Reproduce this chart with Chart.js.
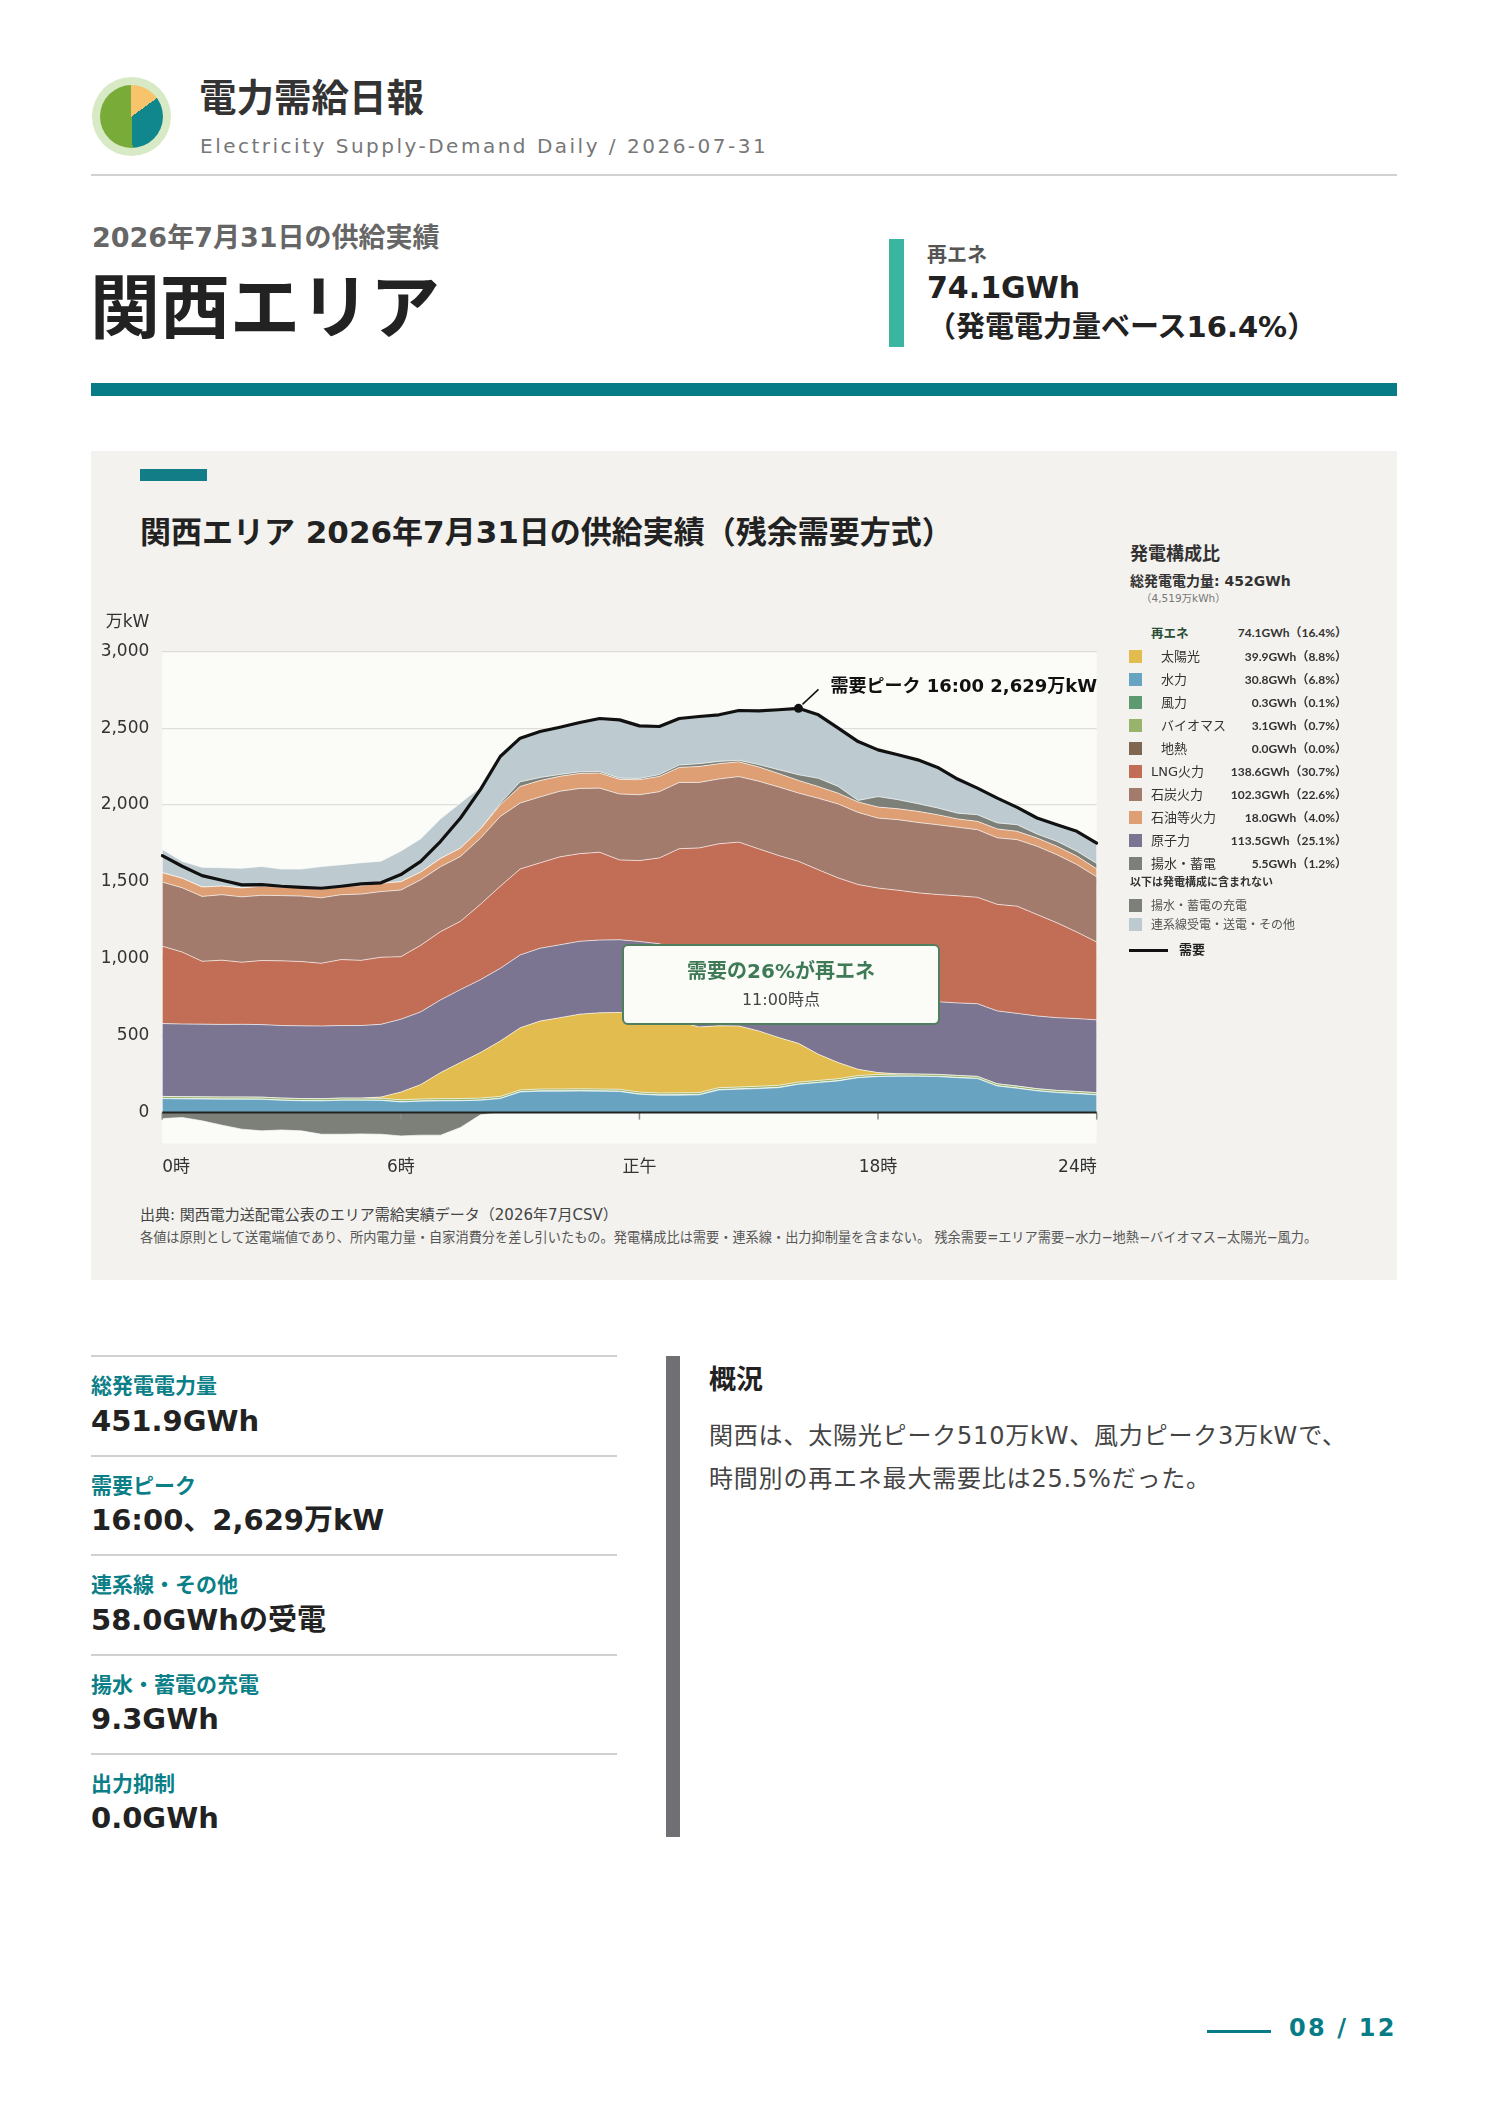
<!DOCTYPE html>
<html lang="ja">
<head>
<meta charset="utf-8">
<title>電力需給日報 関西エリア</title>
<script src="https://cdn.jsdelivr.net/npm/chart.js"></script>
<style>
html,body{margin:0;padding:0;background:#fff;}
body{position:relative;width:1488px;height:2105px;overflow:hidden;font-family:"DejaVu Sans","Noto Sans CJK JP",sans-serif;color:#222;}
.t{position:absolute;white-space:nowrap;line-height:1.2;transform:translateY(-50%);}
.b{font-weight:700;}
.box{position:absolute;box-sizing:border-box;}
.lg{font-family:Lato,"Noto Sans CJK JP",sans-serif;}
.sw{position:absolute;width:13px;height:13px;}
</style>
</head>
<body>
<!-- header -->
<div class="box" style="left:92px;top:77px;width:79px;height:79px;border-radius:50%;background:#d7e9c5;"></div>
<div class="box" style="left:100px;top:85px;width:63px;height:63px;border-radius:50%;background:conic-gradient(#f7c46c 0deg 54deg,#10878c 54deg 178deg,#78ab37 178deg 360deg);"></div>
<div class="t b" style="left:199px;top:98px;font-size:37.5px;color:#333;">電力需給日報</div>
<div class="t" style="left:200px;top:146px;font-size:20px;color:#777;letter-spacing:2.5px;">Electricity Supply-Demand Daily / 2026-07-31</div>
<div class="box" style="left:91px;top:174px;width:1306px;height:2px;background:#d2d2d2;"></div>

<div class="t b" style="left:92px;top:238px;font-size:27px;color:#666;">2026年7月31日の供給実績</div>
<div class="t b" style="left:90px;top:309px;font-size:70px;color:#222;">関西エリア</div>
<div class="box" style="left:889px;top:239px;width:15px;height:108px;background:#3ab59f;"></div>
<div class="t b" style="left:927px;top:255px;font-size:20px;color:#555;">再エネ</div>
<div class="t b" style="left:927px;top:288px;font-size:30px;color:#222;">74.1GWh</div>
<div class="t b" style="left:927px;top:327px;font-size:29px;color:#222;">（発電電力量ベース16.4%）</div>
<div class="box" style="left:91px;top:383px;width:1306px;height:13px;background:#087c86;"></div>

<!-- panel -->
<div class="box" style="left:91px;top:451px;width:1306px;height:829px;background:#f3f2ee;"></div>
<div class="box" style="left:140px;top:469px;width:67px;height:12px;background:#137d87;"></div>
<div class="t b" style="left:140px;top:533px;font-size:31px;color:#222;">関西エリア 2026年7月31日の供給実績（残余需要方式）</div>

<div class="box" style="left:91px;top:600px;width:1040px;height:600px;">
  <canvas id="chart"></canvas>
</div>

<!-- annotation box -->
<div class="box" style="left:622px;top:944px;width:318px;height:81px;border:2px solid #4f7f5f;border-radius:6px;background:#fbfbf8;">
  <div class="t b" style="left:0;width:314px;text-align:center;top:25px;font-size:20px;color:#3e7a55;">需要の26%が再エネ</div>
  <div class="t" style="left:0;width:314px;text-align:center;top:54px;font-size:16px;color:#444;">11:00時点</div>
</div>

<!-- legend -->
<div id="legend"></div>

<div class="t" style="left:140px;top:1215px;font-size:15px;color:#444;">出典: 関西電力送配電公表のエリア需給実績データ（2026年7月CSV）</div>
<div class="t" style="left:140px;top:1238px;font-size:13.2px;color:#555;">各値は原則として送電端値であり、所内電力量・自家消費分を差し引いたもの。発電構成比は需要・連系線・出力抑制量を含まない。 残余需要=エリア需要−水力−地熱−バイオマス−太陽光−風力。</div>

<!-- bottom stats -->
<div id="stats"></div>
<div class="box" style="left:666px;top:1356px;width:14px;height:481px;background:#6f6f74;"></div>
<div class="t b" style="left:709px;top:1380px;font-size:27px;color:#222;">概況</div>
<div class="t" style="left:709px;top:1436px;font-size:24px;color:#444;letter-spacing:0.8px;">関西は、太陽光ピーク510万kW、風力ピーク3万kWで、</div>
<div class="t" style="left:709px;top:1479px;font-size:24px;color:#444;letter-spacing:0.8px;">時間別の再エネ最大需要比は25.5%だった。</div>

<!-- page number -->
<div class="box" style="left:1207px;top:2030px;width:64px;height:3px;background:#087c86;"></div>
<div class="t b" style="left:1289px;top:2028px;font-size:24px;color:#087c86;letter-spacing:2.2px;">08 / 12</div>

<script>
// ---------- data (万kW, 30-minute values) ----------
const timeLabels = ["0:00","0:30","1:00","1:30","2:00","2:30","3:00","3:30","4:00","4:30","5:00","5:30",
  "6:00","6:30","7:00","7:30","8:00","8:30","9:00","9:30","10:00","10:30","11:00","11:30",
  "12:00","12:30","13:00","13:30","14:00","14:30","15:00","15:30","16:00","16:30","17:00","17:30",
  "18:00","18:30","19:00","19:30","20:00","20:30","21:00","21:30","22:00","22:30","23:00","23:30"];
const xTickText = {0:"0時",12:"6時",24:"正午",36:"18時",47:"24時"};
const yTickValues = [0,500,1000,1500,2000,2500,3000];
const unitLabel = "万kW";

const demand = [1671,1602,1541,1511,1481,1483,1472,1465,1459,1472,1487,1494,
  1548,1634,1764,1916,2100,2316,2435,2478,2506,2537,2563,2554,
  2515,2511,2563,2576,2587,2615,2613,2620,2629,2587,2500,2413,
  2359,2327,2294,2245,2169,2110,2045,1985,1916,1872,1829,1753];
const hydro = [91,89,88,87,87,86,80,77,76,80,80,79,
  69,74,76,77,80,91,134,139,139,140,139,137,
  119,113,113,115,147,152,156,162,184,195,206,227,
  234,236,236,234,227,221,173,158,141,130,123,115];
const geothermal = [0,0,0,0,0,0,0,0,0,0,0,0,
  0,0,0,0,0,0,0,0,0,0,0,0,
  0,0,0,0,0,0,0,0,0,0,0,0,
  0,0,0,0,0,0,0,0,0,0,0,0];
const wind = [1,1,1,1,1,1,1,1,1,1,1,1,
  1,1,1,1,1,1,1,2,2,2,2,2,
  2,2,3,3,3,2,2,2,1,1,1,1,
  1,1,1,1,1,1,1,1,1,1,1,1];
const biomass = [13,13,13,13,13,13,13,13,13,13,13,13,
  13,13,13,13,13,13,12,12,12,12,12,12,
  12,12,12,12,12,12,13,13,13,13,13,13,
  13,13,13,13,13,13,13,13,13,13,13,13];
const solar = [0,0,0,0,0,0,0,0,0,0,0,8,
  50,94,170,235,296,360,404,442,464,486,496,500,
  507,498,463,427,402,397,360,311,252,170,105,40,
  12,2,0,0,0,0,0,0,0,0,0,0];
const nuclear = [474,473,473,472,473,472,472,473,473,472,472,473,
  474,473,473,474,474,473,474,474,474,474,473,473,
  473,473,472,472,473,472,473,473,473,472,473,473,
  472,473,473,473,472,473,474,473,473,473,474,474];
const lng = [503,468,409,418,404,417,421,418,408,429,424,436,
  407,433,444,444,490,534,559,555,572,570,571,519,
  526,558,653,692,711,724,711,711,711,728,728,729,
  728,721,706,697,697,692,693,697,660,617,563,506];
const coal = [417,418,422,426,425,424,424,426,426,422,431,427,
  433,426,422,422,430,454,429,429,427,424,417,429,
  428,431,431,426,422,426,440,446,444,465,481,469,
  455,459,458,454,446,440,433,433,444,443,439,424];
const oil = [61,62,61,56,58,59,55,54,55,54,54,54,
  54,50,54,54,60,75,108,106,97,98,98,95,
  98,99,98,104,99,96,93,87,82,76,70,68,
  72,71,72,65,54,54,58,54,54,55,55,52];
const pumpedGen = [0,0,0,0,0,0,0,0,0,0,0,0,
  0,0,0,0,0,10,30,20,12,10,10,8,
  8,12,15,18,15,10,15,25,37,54,44,10,
  68,59,50,44,37,43,39,43,25,32,32,35];
const interconnect = [151,110,128,119,128,129,118,122,148,141,150,144,
  200,217,258,294,272,305,284,300,308,322,345,379,
  342,313,303,307,304,323,351,391,432,412,379,383,
  303,292,285,264,221,173,162,113,105,108,130,134];
const pumpedCharge = [-39,-32,-54,-82,-108,-119,-113,-119,-141,-141,-139,-141,
  -152,-147,-147,-97,-15,0,0,0,0,0,0,0,
  0,0,0,0,0,0,0,0,0,0,0,0,
  0,0,0,0,0,0,0,0,0,0,0,0];

// legend table (text values)
const legendNames  = ["太陽光","水力","風力","バイオマス","地熱","LNG火力","石炭火力","石油等火力","原子力","揚水・蓄電"];
const legendValues = ["39.9GWh（8.8%）","30.8GWh（6.8%）","0.3GWh（0.1%）","3.1GWh（0.7%）","0.0GWh（0.0%）",
  "138.6GWh（30.7%）","102.3GWh（22.6%）","18.0GWh（4.0%）","113.5GWh（25.1%）","5.5GWh（1.2%）"];
const renewTotal = "74.1GWh（16.4%）";
const statLabels = ["総発電電力量","需要ピーク","連系線・その他","揚水・蓄電の充電","出力抑制"];
const statValues = ["451.9GWh","16:00、2,629万kW","58.0GWhの受電","9.3GWh","0.0GWh"];

// ---------- styles ----------
const C = {
  solar:'#e2bc4e', hydro:'#68a3c1', wind:'#5d9a70', biomass:'#98b46c', geo:'#7f6650',
  lng:'#c26d55', coal:'#a27b6d', oil:'#df9f74', nuclear:'#7b7591', pumped:'#7d8078', ic:'#bdcbd0'
};
const legendColors = [C.solar,C.hydro,C.wind,C.biomass,C.geo,C.lng,C.coal,C.oil,C.nuclear,C.pumped];
const FONT = '"DejaVu Sans","Noto Sans CJK JP",sans-serif';

// ---------- legend html ----------
(function(){
  const L = document.getElementById('legend');
  let h = '';
  h += '<div class="t b" style="left:1130px;top:554px;font-size:18px;color:#333;">発電構成比</div>';
  h += '<div class="t b" style="left:1130px;top:581px;font-size:14px;color:#333;">総発電電力量: 452GWh</div>';
  h += '<div class="t" style="left:1141px;top:598px;font-size:10.5px;color:#777;">（4,519万kWh）</div>';
  h += '<div class="t b" style="left:1151px;top:633px;font-size:12.5px;color:#2a4d36;">再エネ</div>';
  h += '<div class="t b lg" style="right:141px;top:633px;font-size:12px;color:#333;">'+renewTotal+'</div>';
  const rowY = [657,680,703,726,749,772,795,818,841,864];
  for (let i=0;i<legendNames.length;i++){
    const sub = i<5;
    h += '<div class="sw" style="left:1129px;top:'+(rowY[i]-7)+'px;background:'+legendColors[i]+';"></div>';
    h += '<div class="t" style="left:'+(sub?1161:1151)+'px;top:'+rowY[i]+'px;font-size:13px;color:#333;">'+legendNames[i]+'</div>';
    h += '<div class="t b lg" style="right:141px;top:'+rowY[i]+'px;font-size:12px;color:#333;">'+legendValues[i]+'</div>';
  }
  h += '<div class="t b" style="left:1130px;top:883px;font-size:11px;color:#333;">以下は発電構成に含まれない</div>';
  h += '<div class="sw" style="left:1129px;top:899px;background:'+C.pumped+';"></div>';
  h += '<div class="t" style="left:1151px;top:906px;font-size:12px;color:#555;">揚水・蓄電の充電</div>';
  h += '<div class="sw" style="left:1129px;top:918px;background:'+C.ic+';"></div>';
  h += '<div class="t" style="left:1151px;top:925px;font-size:12px;color:#555;">連系線受電・送電・その他</div>';
  h += '<div class="box" style="left:1129px;top:949px;width:39px;height:3px;background:#111;"></div>';
  h += '<div class="t b" style="left:1179px;top:950px;font-size:13px;color:#222;">需要</div>';
  L.innerHTML = h;

  const S = document.getElementById('stats');
  let s = '';
  const lineY = [1356,1456,1555,1655,1754];
  const labY = [1387,1487,1586,1686,1785];
  const valY = [1421,1520,1620,1719,1818];
  for (let i=0;i<statLabels.length;i++){
    s += '<div class="box" style="left:91px;top:'+(lineY[i]-1)+'px;width:526px;height:2px;background:#d0d0d0;"></div>';
    s += '<div class="t b" style="left:91px;top:'+labY[i]+'px;font-size:21px;color:#0b7f88;">'+statLabels[i]+'</div>';
    s += '<div class="t b" style="left:91px;top:'+valY[i]+'px;font-size:29px;color:#222;">'+statValues[i]+'</div>';
  }
  S.innerHTML = s;
})();

// ---------- chart ----------
const peakIdx = demand.indexOf(Math.max(...demand));
const peakLabel = '需要ピーク ' + timeLabels[peakIdx] + ' ' + demand[peakIdx].toLocaleString('en-US') + '万kW';

function area(label, data, color, fill){
  return {label, data, backgroundColor: color, borderColor: 'rgba(255,255,255,0.65)', borderWidth: 1,
    fill, pointRadius: 0, pointHoverRadius: 0, tension: 0, stack: 'gen'};
}

const decor = {
  id: 'decor',
  beforeDraw(chart){
    const {ctx, chartArea: a} = chart;
    ctx.save();
    ctx.fillStyle = '#fbfbf8';
    ctx.fillRect(a.left, a.top, a.right - a.left, a.bottom - a.top);
    ctx.restore();
  },
  afterDatasetsDraw(chart){
    const {ctx, chartArea: a, scales: {x, y}} = chart;
    const y0 = y.getPixelForValue(0);
    ctx.save();
    ctx.strokeStyle = '#8a8a8a'; ctx.lineWidth = 1.5;
    Object.keys(xTickText).forEach(k => {
      const px = x.getPixelForValue(+k);
      ctx.beginPath(); ctx.moveTo(px, y0); ctx.lineTo(px, y0 + 7); ctx.stroke();
    });
    ctx.strokeStyle = '#222'; ctx.lineWidth = 2;
    ctx.beginPath(); ctx.moveTo(a.left, y0); ctx.lineTo(a.right, y0); ctx.stroke();

    ctx.fillStyle = '#333';
    ctx.font = '17px ' + FONT;
    ctx.textAlign = 'right'; ctx.textBaseline = 'middle';
    ctx.fillText(unitLabel, a.left - 13, a.top - 29);

    const pt = chart.getDatasetMeta(0).data[peakIdx];
    ctx.fillStyle = '#111';
    ctx.beginPath(); ctx.arc(pt.x, pt.y, 4.5, 0, Math.PI * 2); ctx.fill();
    ctx.strokeStyle = '#111'; ctx.lineWidth = 1.5;
    ctx.beginPath(); ctx.moveTo(pt.x + 4, pt.y - 4); ctx.lineTo(pt.x + 20, pt.y - 19); ctx.stroke();
    ctx.font = 'bold 18px ' + FONT;
    ctx.textAlign = 'left';
    ctx.fillText(peakLabel, pt.x + 32, pt.y - 21);
    ctx.restore();
  }
};

Chart.defaults.font.family = FONT;

new Chart(document.getElementById('chart'), {
  type: 'line',
  data: {
    labels: timeLabels,
    datasets: [
      {label:'需要', data: demand, borderColor:'#111', borderWidth:3.2, fill:false, pointRadius:0,
        pointHoverRadius:0, tension:0, stack:'demand', borderJoinStyle:'round', borderCapStyle:'round'},
      area('水力', hydro, C.hydro, 'origin'),
      area('地熱', geothermal, C.geo, '-1'),
      area('風力', wind, C.wind, '-1'),
      area('バイオマス', biomass, C.biomass, '-1'),
      area('太陽光', solar, C.solar, '-1'),
      area('原子力', nuclear, C.nuclear, '-1'),
      area('LNG火力', lng, C.lng, '-1'),
      area('石炭火力', coal, C.coal, '-1'),
      area('石油等火力', oil, C.oil, '-1'),
      area('揚水・蓄電', pumpedGen, C.pumped, '-1'),
      area('連系線受電・送電・その他', interconnect, C.ic, '-1'),
      Object.assign(area('揚水・蓄電の充電', pumpedCharge, C.pumped, 'origin'), {stack:'charge'})
    ]
  },
  options: {
    responsive: true,
    maintainAspectRatio: false,
    animation: false,
    layout: {padding: {top: 51.3, right: 34.3, left: 0, bottom: 0}},
    plugins: {legend: {display: false}, tooltip: {enabled: false}},
    interaction: {mode: null},
    scales: {
      x: {
        type: 'category',
        grid: {display: false, drawTicks: false},
        border: {display: false},
        ticks: {
          autoSkip: false, maxRotation: 0, minRotation: 0, align: 'inner', padding: 14,
          color: '#333', font: {size: 17},
          callback: (v, i) => (xTickText[i] !== undefined ? xTickText[i] : '')
        },
        afterFit: s => { s.height = 56.7; }
      },
      y: {
        stacked: true,
        min: -200, max: 3000,
        afterBuildTicks: s => { s.ticks = yTickValues.map(v => ({value: v})); },
        grid: {
          drawTicks: false, lineWidth: 1.2,
          color: c => (c.tick && c.tick.value === 0) ? 'rgba(0,0,0,0)' : '#deddd7'
        },
        border: {display: false},
        ticks: {
          padding: 13, color: '#333', font: {size: 17},
          callback: v => Number(v).toLocaleString('en-US')
        },
        afterFit: s => { s.width = 71.3; }
      }
    }
  },
  plugins: [decor]
});
</script>
</body>
</html>
